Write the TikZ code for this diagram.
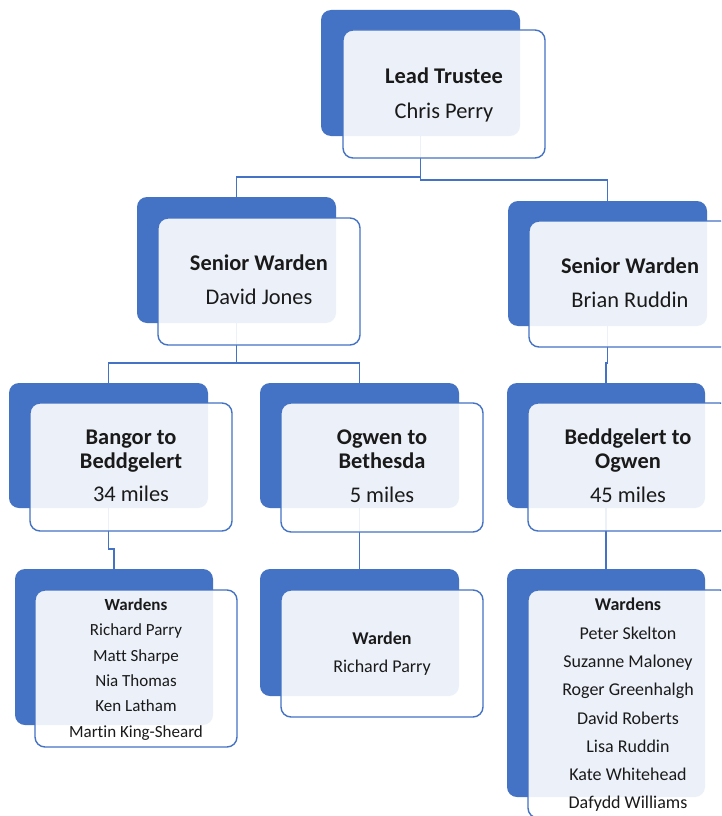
\documentclass[tikz,border=0pt]{standalone}
\usepackage{fontspec}
\setmainfont{Carlito}[Ligatures=NoCommon]
\definecolor{accent}{HTML}{4472C4}
\definecolor{ink}{HTML}{1A1A1A}
\begin{document}
\begin{tikzpicture}[x=1pt,y=-1pt,
  backbox/.style={rectangle, rounded corners=10pt, fill=accent, draw=none, inner sep=0pt, outer sep=0pt, minimum width=199pt},
  frontbox/.style={rectangle, rounded corners=10pt, draw=accent, line width=1.4pt, fill=white, fill opacity=0.9, inner sep=0pt, outer sep=0pt, minimum width=202pt},
  link/.style={draw=accent, line width=1.3pt},
  tb/.style={anchor=base, inner sep=0pt, text=ink, font=\fontsize{22.4}{24}\selectfont\bfseries},
  tr/.style={anchor=base, inner sep=0pt, text=ink, font=\fontsize{22.4}{24}\selectfont},
  sb/.style={anchor=base, inner sep=0pt, text=ink, font=\fontsize{#1}{#1}\selectfont\bfseries},
  sr/.style={anchor=base, inner sep=0pt, text=ink, font=\fontsize{#1}{#1}\selectfont}]
\clip (0,0) rectangle (721,816);
\fill[white] (0,0) rectangle (721,816);
% back boxes
\node[backbox, minimum height=126pt] (Lb) at (420.5,73) {};
\node[backbox, minimum height=126pt] (Ab) at (236.5,260) {};
\node[backbox, minimum height=125pt] (Bb) at (607.5,263.5) {};
\node[backbox, minimum height=125pt] (Cb) at (108.5,445.5) {};
\node[backbox, minimum height=125pt] (Db) at (359.5,445.5) {};
\node[backbox, minimum height=125pt, minimum width=198pt] (Eb) at (606,445.5) {};
\node[backbox, minimum height=156pt, minimum width=198pt] (Fb) at (114,647) {};
\node[backbox, minimum height=127pt] (Gb) at (359.5,632.5) {};
\node[backbox, minimum height=228pt, minimum width=198pt] (Hb) at (606,683) {};
% connectors
\draw[link] (Lb.south) -- ++(0,41) -| (Ab.north);
\draw[link] (Lb.south) -- ++(0,44) -| (Bb.north);
\draw[link] (Ab.south) -- ++(0,40) -| (Cb.north);
\draw[link] (Ab.south) -- ++(0,40) -| (Db.north);
\draw[link] (Bb.south) -- ++(0,37) -| (Eb.north);
\draw[link] (Cb.south) -- ++(0,41) -| (Fb.north);
\draw[link] (Db.south) -- (Gb.north);
\draw[link] (Eb.south) -- (Hb.north);
% front boxes
\node[frontbox, minimum height=128pt] (Lf) at (444,94) {};
\node[frontbox, minimum height=127pt] (Af) at (259,281.5) {};
\node[frontbox, minimum height=126pt] (Bf) at (630,284) {};
\node[frontbox, minimum height=128pt] (Cf) at (131,467) {};
\node[frontbox, minimum height=129pt] (Df) at (382,467.5) {};
\node[frontbox, minimum height=128pt] (Ef) at (629,467) {};
\node[frontbox, minimum height=157pt] (Ff) at (136,668.5) {};
\node[frontbox, minimum height=127pt] (Gf) at (382,653.5) {};
\node[frontbox, minimum height=228pt] (Hf) at (629,704) {};
% texts
\node[tb] (L1) at (444,83.3) {Lead Trustee};
\node[tr] (L2) at (444,118.3) {Chris Perry};
\node[tb] (A1) at (259,270) {Senior Warden};
\node[tr] (A2) at (259,304) {David Jones};
\node[tb] (B1) at (630,273.3) {Senior Warden};
\node[tr] (B2) at (630,307.3) {Brian Ruddin};
\node[tb] (C1) at (131,444) {Bangor to};
\node[tb] (C2) at (131,468.3) {Beddgelert};
\node[tr] (C3) at (131,501.7) {34 miles};
\node[tb] (D1) at (382,444) {Ogwen to};
\node[tb] (D2) at (382,468.3) {Bethesda};
\node[tr] (D3) at (382,502.3) {5 miles};
\node[tb] (E1) at (628,444) {Beddgelert to};
\node[tb] (E2) at (628,468.3) {Ogwen};
\node[tr] (E3) at (628,502.3) {45 miles};
\node[sb=17] (F0) at (136,610) {Wardens};
\foreach \t/\y [count=\i] in {Richard Parry/635, Matt Sharpe/661, Nia Thomas/686, Ken Latham/711.7, Martin King-Sheard/737.3}
  \node[sr=17] (F\i) at (136,\y) {\t};
\node[sb=18] (G1) at (382,644) {Warden};
\node[sr=18] (G2) at (382,672.7) {Richard Parry};
\node[sb=18] (H0) at (628,610) {Wardens};
\foreach \t/\y [count=\i] in {Peter Skelton/639, Suzanne Maloney/667.3, Roger Greenhalgh/695.7, David Roberts/724, Lisa Ruddin/752.3, Kate Whitehead/780.7, Dafydd Williams/808.3}
  \node[sr=18] (H\i) at (628,\y) {\t};
\end{tikzpicture}
\end{document}
